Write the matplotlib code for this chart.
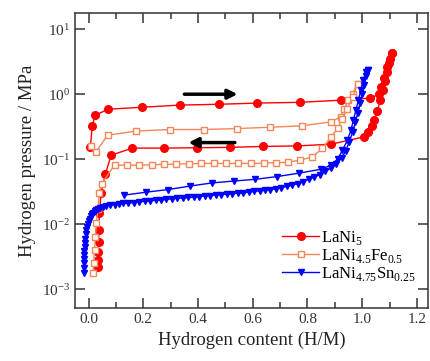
import matplotlib
matplotlib.use('Agg')
import matplotlib.pyplot as plt
from matplotlib.ticker import MultipleLocator, LogLocator, NullLocator

plt.rcParams['font.family'] = ['Liberation Serif', 'DejaVu Serif']
plt.rcParams['mathtext.fontset'] = 'custom'
plt.rcParams['mathtext.rm'] = 'Liberation Serif'

# LaNi5
lani5_abs_x = [0.007, 0.0135, 0.024, 0.073, 0.197, 0.336, 0.478, 0.617, 0.774, 0.923,
               1.029, 1.062, 1.070, 1.080, 1.090, 1.100, 1.109]
lani5_abs_p = [0.153, 0.32, 0.475, 0.588, 0.63, 0.68, 0.70, 0.73, 0.75, 0.81,
               0.87, 1.0, 1.3, 1.8, 2.6, 3.5, 4.3]
lani5_des_x = [1.109, 1.098, 1.090, 1.083, 1.075, 1.066, 1.055, 1.045, 1.036, 1.020,
               1.005, 0.887, 0.763, 0.639, 0.518, 0.398, 0.277, 0.160, 0.083, 0.062,
               0.046, 0.040, 0.038, 0.037, 0.036, 0.035, 0.035]
lani5_des_p = [4.3, 3.0, 2.2, 1.6, 1.15, 0.8, 0.55, 0.40, 0.32, 0.26,
               0.22, 0.17, 0.16, 0.157, 0.152, 0.15, 0.148, 0.148, 0.115, 0.06,
               0.03, 0.0146, 0.0081, 0.0054, 0.0037, 0.0028, 0.0022]

# LaNi4.5Fe0.5
fe_abs_x = [0.008, 0.027, 0.070, 0.172, 0.296, 0.421, 0.543, 0.664, 0.779, 0.886,
            0.922, 0.934, 0.950, 0.965, 0.983]
fe_abs_p = [0.16, 0.13, 0.234, 0.27, 0.286, 0.286, 0.296, 0.31, 0.326, 0.375,
            0.45, 0.6, 0.8, 1.02, 1.46]
fe_des_x = [0.983, 0.965, 0.945, 0.928, 0.910, 0.886, 0.855, 0.818, 0.774, 0.730,
            0.685, 0.640, 0.594, 0.548, 0.503, 0.457, 0.412, 0.367, 0.321, 0.276,
            0.231, 0.185, 0.140, 0.095, 0.048, 0.040, 0.034, 0.029, 0.025, 0.022,
            0.019, 0.017]
fe_des_p = [1.46, 0.9, 0.6, 0.42, 0.30, 0.22, 0.147, 0.108, 0.097, 0.090,
            0.088, 0.087, 0.086, 0.086, 0.086, 0.086, 0.086, 0.085, 0.084, 0.083,
            0.082, 0.081, 0.081, 0.081, 0.042, 0.030, 0.0174, 0.0103, 0.0064, 0.004,
            0.0025, 0.0018]

# LaNi4.75Sn0.25
sn_abs_x = [0.131, 0.21, 0.29, 0.37, 0.45, 0.53, 0.61, 0.69, 0.77, 0.85,
            0.886, 0.91, 0.928, 0.946, 0.959, 0.968, 0.977, 0.986, 0.995, 1.004,
            1.013, 1.02]
sn_abs_p = [0.028, 0.031, 0.034, 0.0385, 0.043, 0.046, 0.049, 0.054, 0.061, 0.07,
            0.081, 0.1, 0.137, 0.196, 0.28, 0.4, 0.57, 0.81, 1.15, 1.64,
            2.2, 2.34]
sn_des_x = [1.02, 1.015, 1.008, 1.0, 0.992, 0.984, 0.975, 0.965, 0.953, 0.94,
            0.925, 0.905, 0.885, 0.865, 0.845, 0.825, 0.805, 0.785, 0.765, 0.745,
            0.725, 0.705, 0.685, 0.665, 0.645, 0.625, 0.605, 0.585, 0.565, 0.545,
            0.525, 0.505, 0.485, 0.465, 0.445, 0.425, 0.405, 0.385, 0.365, 0.345,
            0.325, 0.305, 0.285, 0.265, 0.245, 0.225, 0.205, 0.185, 0.165, 0.145,
            0.125, 0.113, 0.095, 0.077, 0.064, 0.052, 0.042, 0.034, 0.027, 0.022,
            0.017, 0.013, 0.008, 0.004, 0.0, -0.003, -0.006, -0.008, -0.010, -0.011,
            -0.013, -0.014, -0.015, -0.016, -0.017, -0.017, -0.018, -0.018]
sn_des_p = [2.34, 1.9, 1.4, 1.0, 0.72, 0.52, 0.37, 0.26, 0.185, 0.135,
            0.105, 0.085, 0.072, 0.065, 0.058, 0.053, 0.049, 0.045, 0.042, 0.040,
            0.038, 0.0365, 0.035, 0.034, 0.033, 0.0325, 0.032, 0.031, 0.0305, 0.030,
            0.0295, 0.029, 0.0285, 0.028, 0.0275, 0.027, 0.0265, 0.026, 0.0257, 0.0253,
            0.025, 0.0245, 0.024, 0.0236, 0.0232, 0.0228, 0.0224, 0.022, 0.0215, 0.021,
            0.0208, 0.0205, 0.0200, 0.0196, 0.019, 0.0184, 0.0179, 0.0174, 0.0167, 0.016,
            0.0151, 0.0142, 0.0132, 0.0122, 0.0112, 0.0102, 0.009, 0.008, 0.007, 0.006,
            0.0052, 0.0045, 0.0039, 0.0033, 0.0029, 0.0025, 0.0021, 0.0018]

red = '#ff0000'
orange = '#f4875a'
blue = '#0000ff'

fig = plt.figure(figsize=(4.30, 3.61), dpi=100)
ax = fig.add_axes([0.174, 0.147, 0.821, 0.817])

ax.plot(lani5_abs_x, lani5_abs_p, '-o', color=red, ms=5.5, lw=1, label='LaNi$_{\\mathrm{5}}$')
ax.plot(lani5_des_x, lani5_des_p, '-o', color=red, ms=5.5, lw=1)
ax.plot(fe_abs_x, fe_abs_p, '-s', color=orange, mfc='white', ms=4.5, mew=1, lw=1,
        label='LaNi$_{\\mathrm{4.5}}$Fe$_{\\mathrm{0.5}}$')
ax.plot(fe_des_x, fe_des_p, '-s', color=orange, mfc='white', ms=4.5, mew=1, lw=1)
ax.plot(sn_abs_x, sn_abs_p, '-v', color=blue, ms=5, lw=1,
        label='LaNi$_{\\mathrm{4.75}}$Sn$_{\\mathrm{0.25}}$')
ax.plot(sn_des_x, sn_des_p, '-v', color=blue, ms=4.5, lw=1)

# direction arrows
ax.annotate('', xy=(0.555, 1.0), xytext=(0.34, 1.0),
            arrowprops=dict(arrowstyle='-|>', lw=2.5, color='k', mutation_scale=14))
ax.annotate('', xy=(0.355, 0.18), xytext=(0.545, 0.18),
            arrowprops=dict(arrowstyle='-|>', lw=2.5, color='k', mutation_scale=14))

ax.set_yscale('log')
ax.set_xlim(-0.05, 1.24)
ax.set_ylim(10**-3.29, 10**1.25)
ax.xaxis.set_major_locator(MultipleLocator(0.2))
ax.xaxis.set_minor_locator(MultipleLocator(0.1))
ax.yaxis.set_major_locator(LogLocator(base=10, numticks=10))
ax.yaxis.set_minor_locator(NullLocator())
ax.tick_params(which='both', direction='in', top=True, right=True, colors='#333333',
               labelsize=11, width=1.1)
ax.tick_params(which='major', length=7)
ax.tick_params(which='minor', length=4)
for s in ax.spines.values():
    s.set_linewidth(1.1)
    s.set_color('#333333')

ax.set_xlabel('Hydrogen content (H/M)', fontsize=13.5, color='#222222')
ax.set_ylabel('Hydrogen pressure / MPa', fontsize=13.5, color='#222222')

ax.legend(loc='lower right', bbox_to_anchor=(0.965, 0.085), frameon=False, fontsize=12,
          handlelength=2.2, handletextpad=0.1, labelspacing=0.0, borderaxespad=0.0,
          borderpad=0.0)

plt.savefig('out.png', dpi=100)
